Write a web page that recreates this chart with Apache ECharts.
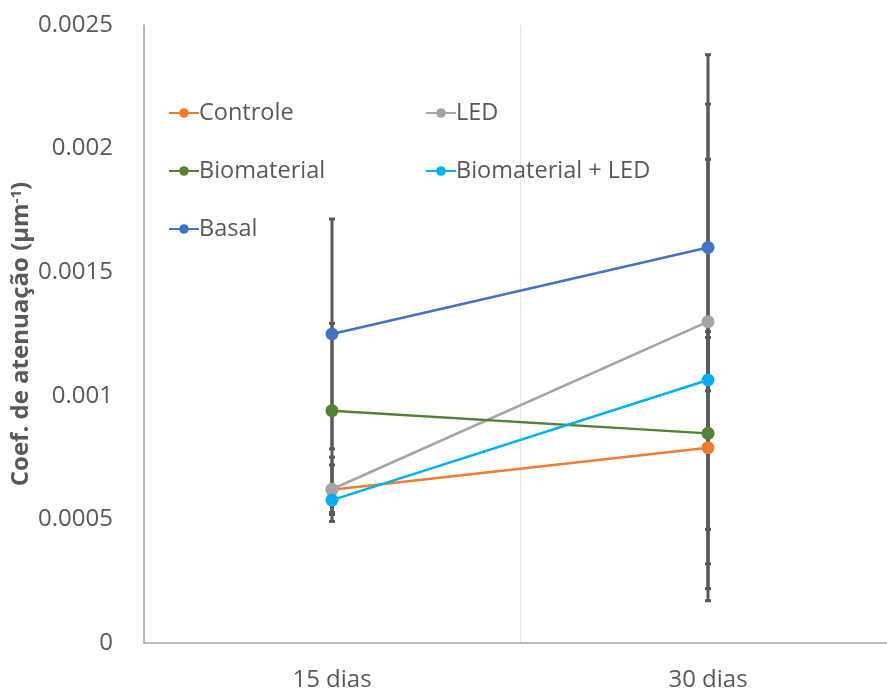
<!DOCTYPE html>
<html>
<head>
<meta charset="utf-8">
<script src="https://cdn.jsdelivr.net/npm/echarts@6/dist/echarts.min.js"></script>
<style>
  html, body { margin: 0; padding: 0; background: #fff; }
  #chart { width: 887px; height: 691px; }
</style>
</head>
<body>
<div id="chart"></div>
<script>
// Attenuation coefficient per group at two time points, with ± deviation
const categories = ['15 dias', '30 dias'];
const yTicks = [0, 0.0005, 0.001, 0.0015, 0.002, 0.0025];

const controle = [0.00062, 0.00079];
const led = [0.000622, 0.0013];
const biomaterial = [0.00094, 0.000848];
const biomaterialLed = [0.000578, 0.001064];
const basal = [0.00125, 0.0016];

const controleErr = [0.0001, 0.00047];
const ledErr = [0.00013, 0.00108];
const biomaterialErr = [0.000353, 0.000388];
const biomaterialLedErr = [0.00005, 0.000893];
const basalErr = [0.000465, 0.00058];

const groups = [
  { name: 'Controle', values: controle, err: controleErr, color: '#ED7D31' },
  { name: 'LED', values: led, err: ledErr, color: '#A5A5A5' },
  { name: 'Biomaterial', values: biomaterial, err: biomaterialErr, color: '#548235' },
  { name: 'Biomaterial + LED', values: biomaterialLed, err: biomaterialLedErr, color: '#00B0F0' },
  { name: 'Basal', values: basal, err: basalErr, color: '#4472C4' }
];

const FONT = 'Open Sans';
const TEXT = '#595959';

const lineSeries = groups.map(g => ({
  name: g.name,
  type: 'line',
  data: g.values,
  symbol: 'circle',
  symbolSize: 13,
  lineStyle: { width: 2.5, color: g.color },
  itemStyle: { color: g.color },
  z: 3
}));

const errorSeries = groups.map(g => ({
  type: 'custom',
  name: g.name + ' erro',
  data: g.values.map((v, i) => [i, v - g.err[i], v + g.err[i]]),
  z: 2,
  silent: true,
  renderItem: function (params, api) {
    const x = api.value(0);
    const lo = api.coord([x, api.value(1)]);
    const hi = api.coord([x, api.value(2)]);
    const cap = 3;
    const style = { stroke: '#595959', lineWidth: 3 };
    return {
      type: 'group',
      children: [
        { type: 'line', shape: { x1: lo[0], y1: lo[1], x2: hi[0], y2: hi[1] }, style },
        { type: 'line', shape: { x1: hi[0] - cap, y1: hi[1], x2: hi[0] + cap, y2: hi[1] }, style },
        { type: 'line', shape: { x1: lo[0] - cap, y1: lo[1], x2: lo[0] + cap, y2: lo[1] }, style }
      ]
    };
  }
}));

const legendBase = {
  orient: 'vertical',
  itemWidth: 30,
  itemHeight: 12,
  itemGap: 32,
  textStyle: { fontFamily: FONT, fontSize: 23.5, lineHeight: 26, color: TEXT, padding: [0, 0, 0, -5] },
  selectedMode: false
};

const option = {
  animation: false,
  backgroundColor: '#fff',
  grid: { left: 144, top: 25, right: -9, bottom: 48, containLabel: false, outerBoundsMode: 'none' },
  legend: [
    Object.assign({}, legendBase, { left: 163, top: 95, data: ['Controle', 'Biomaterial', 'Basal'] }),
    Object.assign({}, legendBase, { left: 420, top: 95, data: ['LED', 'Biomaterial + LED'] })
  ],
  xAxis: {
    type: 'category',
    data: categories,
    boundaryGap: true,
    axisLine: { show: true, lineStyle: { color: '#A6A6A6', width: 1.5 } },
    axisTick: { show: false },
    axisLabel: { fontFamily: FONT, fontSize: 24, color: TEXT, margin: 25 },
    splitLine: { show: true, lineStyle: { color: '#E6E6E6', width: 1 } }
  },
  yAxis: {
    type: 'value',
    min: yTicks[0],
    max: yTicks[yTicks.length - 1],
    interval: yTicks[1] - yTicks[0],
    name: 'Coef. de atenuação (µm{sup|-1})',
    nameLocation: 'middle',
    nameGap: 111,
    nameMoveOverlap: false,
    nameTextStyle: {
      fontFamily: FONT, fontSize: 24, fontWeight: 'bold', color: TEXT,
      rich: { sup: { fontFamily: FONT, fontSize: 15, fontWeight: 'bold', color: TEXT, verticalAlign: 'top', padding: [0, 0, 9, 0] } }
    },
    axisLine: { show: true, lineStyle: { color: '#A6A6A6', width: 1.5 } },
    axisTick: { show: false },
    splitLine: { show: false },
    axisLabel: {
      fontFamily: FONT, fontSize: 24, color: TEXT, margin: 31,
      formatter: v => String(parseFloat(v.toPrecision(6)))
    }
  },
  series: errorSeries.concat(lineSeries)
};

const chart = echarts.init(document.getElementById('chart'), null, { renderer: 'canvas' });
chart.setOption(option);
</script>
</body>
</html>
